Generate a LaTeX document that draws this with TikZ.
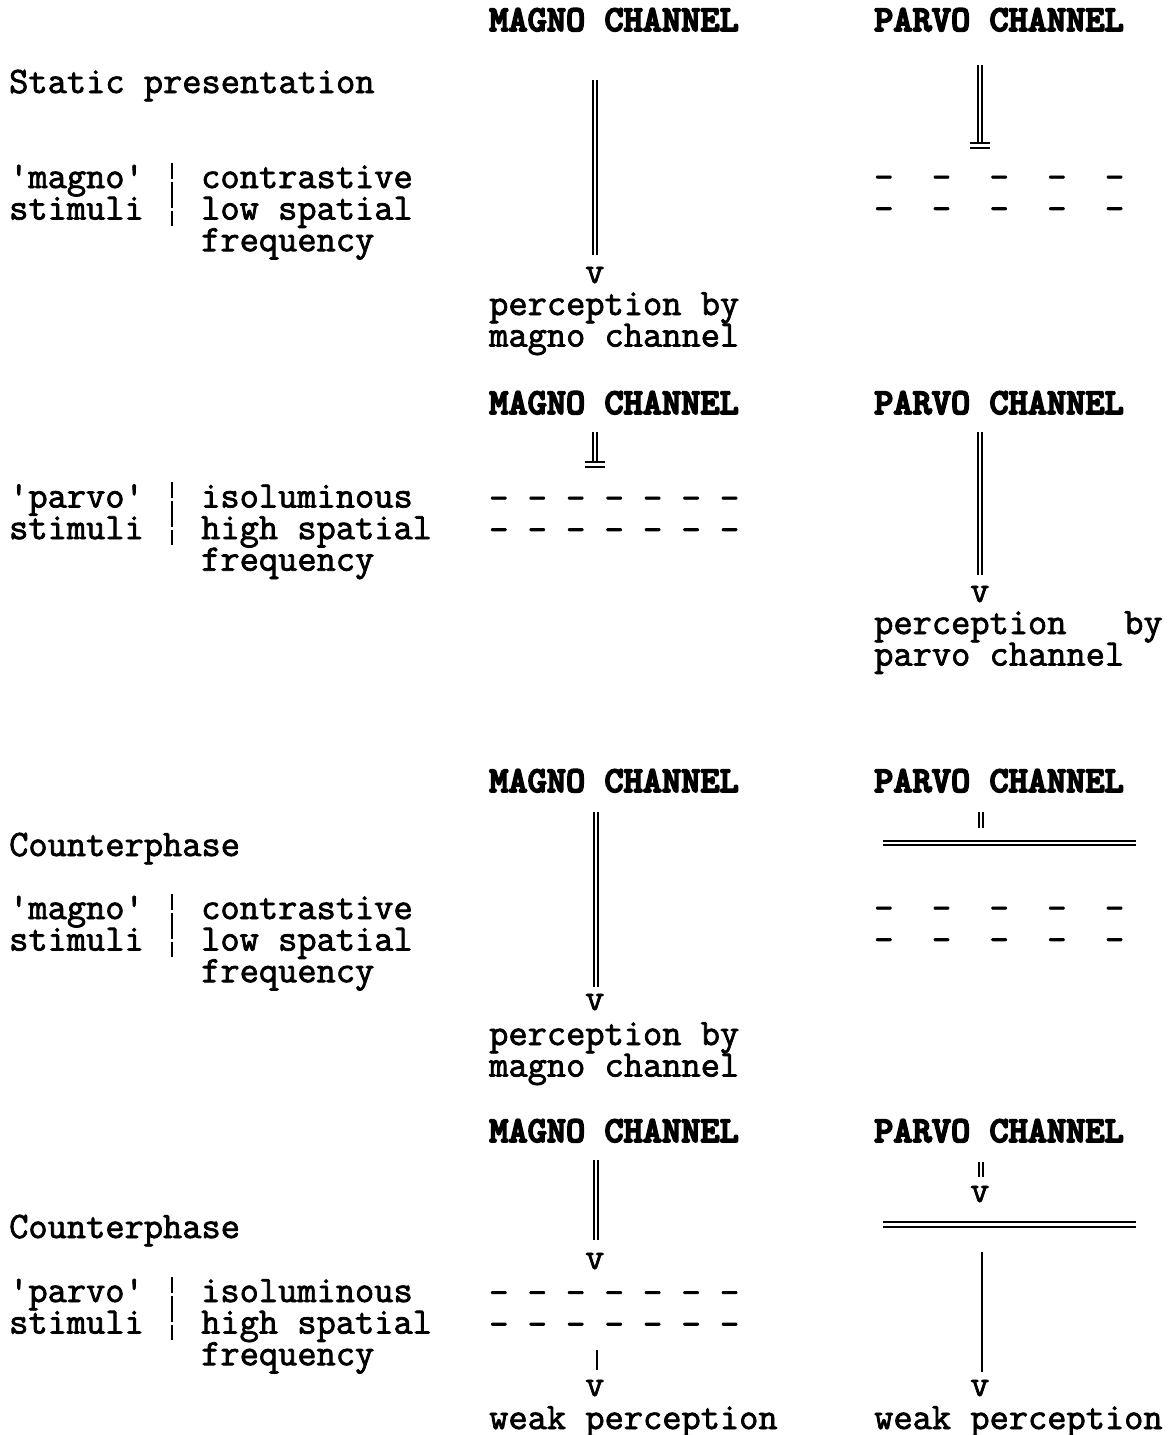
\documentclass[tikz,border=0pt]{standalone}
\usepackage{fontspec}
\setmonofont{lmmono12-regular.otf}[FakeBold=2]
\newfontfamily\hdrfont{lmmonolt10-bold.otf}[FakeBold=4.5]
\begin{document}
\lineskiplimit=-100pt\relax
\lineskip=0pt\relax
\begin{tikzpicture}[x=1pt,y=-1pt]
\tikzset{
 txt/.style={inner sep=0pt, anchor=base west, align=left, font=\ttfamily\fontsize{37.34}{31.6}\selectfont},
 hdr/.style={txt, font=\hdrfont\fontsize{36.57}{31.6}\selectfont},
 ln/.style={line width=2pt},
 dbl/.style={line width=1.9pt, double distance=2.4pt},
 sepbar/.style={line width=1.6pt},
}
\useasboundingbox[fill=white] (0,0) rectangle (1172,1435);
% multi-line nodes are anchored at the baseline of their LAST line
% ---------- Section 1 ----------
\node[hdr] (hm1) at (489,31) {MAGNO~CHANNEL};
\node[hdr] (hp1) at (874,31) {PARVO~CHANNEL};
\node[txt] (st1) at (9,93) {Static~presentation};
\node[txt] (a1) at (9,219.6) {'magno'\\stimuli};
\node[txt] (c1) at (201,251.2) {contrastive\\low~spatial\\frequency};
\coordinate (s1a) at (172.2,163); \coordinate (s1b) at (172.2,179);
\coordinate (s1c) at (172.2,182); \coordinate (s1d) at (172.2,208);
\coordinate (s1e) at (172.2,211); \coordinate (s1f) at (172.2,226);
\draw[sepbar] (s1a) -- (s1b) (s1c) -- (s1d) (s1e) -- (s1f);
\coordinate (m1t) at (595,80); \coordinate (m1b) at (595,255);
\draw[dbl] (m1t) -- (m1b);
\node[txt] (v1) at (585,283) {v};
\node[txt] (pm1) at (489,346.6) {perception~by\\magno~channel};
\coordinate (p1t) at (980,65); \coordinate (p1b) at (980,143);
\draw[dbl] (p1t) -- (p1b);
\coordinate (p1l1) at (970,143); \coordinate (p1r1) at (990,143);
\coordinate (p1l2) at (970,148); \coordinate (p1r2) at (990,148);
\draw[ln] (p1l1) -- (p1r1) (p1l2) -- (p1r2);
\node[txt] (pd1) at (874,220.1) {-~~-~~-~~-~~-\\-~~-~~-~~-~~-};
% ---------- Section 2 ----------
\node[hdr] (hm2) at (489,414) {MAGNO~CHANNEL};
\node[hdr] (hp2) at (874,414) {PARVO~CHANNEL};
\node[txt] (a2) at (9,539.1) {'parvo'\\stimuli};
\node[txt] (c2) at (201,570.7) {isoluminous\\high~spatial\\frequency};
\coordinate (s2a) at (172.2,482); \coordinate (s2b) at (172.2,498);
\coordinate (s2c) at (172.2,501); \coordinate (s2d) at (172.2,527);
\coordinate (s2e) at (172.2,530); \coordinate (s2f) at (172.2,545);
\draw[sepbar] (s2a) -- (s2b) (s2c) -- (s2d) (s2e) -- (s2f);
\coordinate (m2t) at (595,432); \coordinate (m2b) at (595,462);
\draw[dbl] (m2t) -- (m2b);
\coordinate (m2l1) at (585,462); \coordinate (m2r1) at (605,462);
\coordinate (m2l2) at (585,467); \coordinate (m2r2) at (605,467);
\draw[ln] (m2l1) -- (m2r1) (m2l2) -- (m2r2);
\node[txt] (md2) at (489,541.1) {-~-~-~-~-~-~-\\-~-~-~-~-~-~-};
\coordinate (p2t) at (980,432); \coordinate (p2b) at (980,575);
\draw[dbl] (p2t) -- (p2b);
\node[txt] (v2) at (970,602) {v};
\node[txt] (pp2) at (874,665.6) {perception~~~by\\parvo~channel};
% ---------- Section 3 ----------
\node[hdr] (hm3) at (489,792) {MAGNO~CHANNEL};
\node[hdr] (hp3) at (874,792) {PARVO~CHANNEL};
\node[txt] (st3) at (9,856) {Counterphase};
\node[txt] (a3) at (9,950.6) {'magno'\\stimuli};
\node[txt] (c3) at (201,982.2) {contrastive\\low~spatial\\frequency};
\coordinate (s3a) at (172.2,894); \coordinate (s3b) at (172.2,910);
\coordinate (s3c) at (172.2,913); \coordinate (s3d) at (172.2,939);
\coordinate (s3e) at (172.2,942); \coordinate (s3f) at (172.2,957);
\draw[sepbar] (s3a) -- (s3b) (s3c) -- (s3d) (s3e) -- (s3f);
\coordinate (m3t) at (596,812); \coordinate (m3b) at (596,987);
\draw[dbl] (m3t) -- (m3b);
\node[txt] (v3) at (585,1010) {v};
\node[txt] (pm3) at (489,1076.6) {perception~by\\magno~channel};
\coordinate (p3t) at (981,812); \coordinate (p3b) at (981,828);
\draw[dbl] (p3t) -- (p3b);
\coordinate (h3l) at (883,843); \coordinate (h3r) at (1136,843);
\draw[dbl] (h3l) -- (h3r);
\node[txt] (pd3) at (874,951.1) {-~~-~~-~~-~~-\\-~~-~~-~~-~~-};
% ---------- Section 4 ----------
\node[hdr] (hm4) at (489,1142) {MAGNO~CHANNEL};
\node[hdr] (hp4) at (874,1142) {PARVO~CHANNEL};
\node[txt] (st4) at (9,1238) {Counterphase};
\node[txt] (a4) at (9,1333.6) {'parvo'\\stimuli};
\node[txt] (c4) at (201,1365.2) {isoluminous\\high~spatial\\frequency};
\coordinate (s4a) at (172.2,1277); \coordinate (s4b) at (172.2,1293);
\coordinate (s4c) at (172.2,1296); \coordinate (s4d) at (172.2,1322);
\coordinate (s4e) at (172.2,1325); \coordinate (s4f) at (172.2,1340);
\draw[sepbar] (s4a) -- (s4b) (s4c) -- (s4d) (s4e) -- (s4f);
\coordinate (m4t) at (596,1160); \coordinate (m4b) at (596,1240);
\draw[dbl] (m4t) -- (m4b);
\node[txt] (v4a) at (585,1269) {v};
\node[txt] (md4) at (489,1335.6) {-~-~-~-~-~-~-\\-~-~-~-~-~-~-};
\coordinate (m4st) at (597,1350); \coordinate (m4sb) at (597,1370);
\draw[sepbar] (m4st) -- (m4sb);
\node[txt] (v4b) at (585,1396) {v};
\node[txt] (wm4) at (489,1429) {weak~perception};
\coordinate (p4t) at (981,1162); \coordinate (p4b) at (981,1177);
\draw[dbl] (p4t) -- (p4b);
\node[txt] (v4c) at (970,1202) {v};
\coordinate (h4l) at (883,1224.5); \coordinate (h4r) at (1136,1224.5);
\draw[dbl] (h4l) -- (h4r);
\coordinate (p4st) at (982,1252); \coordinate (p4sb) at (982,1372);
\draw[ln] (p4st) -- (p4sb);
\node[txt] (v4d) at (970,1396) {v};
\node[txt] (wp4) at (874,1429) {weak~perception};
\end{tikzpicture}
\end{document}
